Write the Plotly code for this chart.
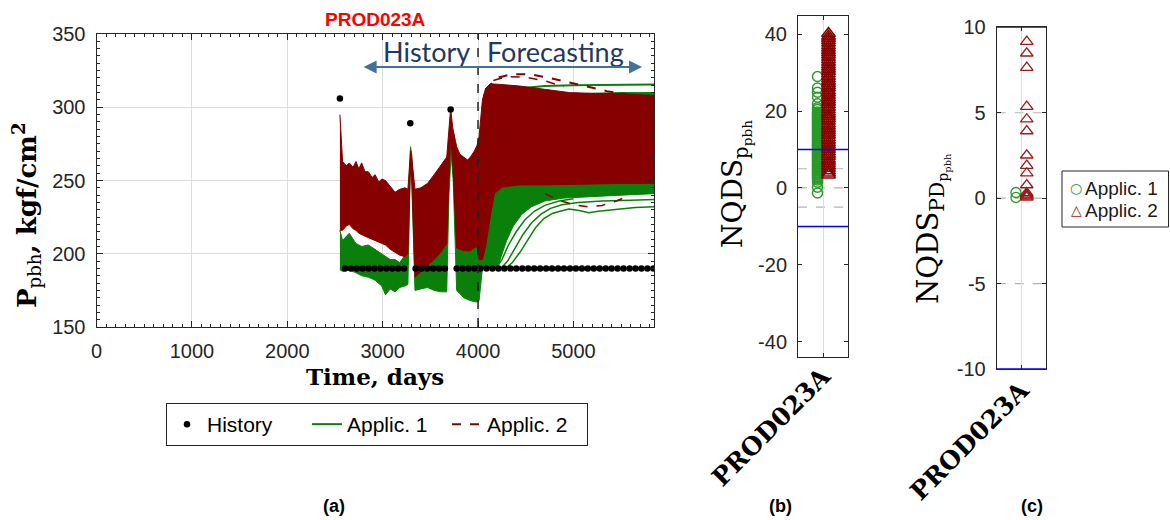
import plotly.graph_objects as go

# ---------------------------------------------------------------
# Panel (a): bottom-hole pressure of well PROD023A (kgf/cm2)
# ---------------------------------------------------------------
hist_t = [2552,
          2605, 2667, 2729, 2791, 2853, 2915, 2977, 3039, 3101, 3163, 3225,
          3290,
          3346, 3407, 3469, 3530, 3592, 3653,
          3713,
          3776, 3839, 3901, 3964, 4026, 4089, 4151, 4214, 4276, 4339, 4401, 4464,
          4526, 4589, 4651, 4714, 4776, 4839, 4901, 4964, 5026, 5089, 5151, 5214,
          5276, 5339, 5401, 5464, 5526, 5589, 5651, 5714, 5776, 5839]
hist_p = [306,
          190, 190, 190, 190, 190, 190, 190, 190, 190, 190, 190,
          289,
          190, 190, 190, 190, 190, 190,
          298.5,
          190, 190, 190, 190, 190, 190, 190, 190, 190, 190, 190, 190,
          190, 190, 190, 190, 190, 190, 190, 190, 190, 190, 190, 190,
          190, 190, 190, 190, 190, 190, 190, 190, 190, 190]

# Applic. 1 ensemble envelope (lower / upper bound of all models)
app1_t = [2552, 2580, 2650, 2720, 2780, 2850, 2920, 2990, 3030, 3080,
          3130, 3180, 3234, 3265, 3292, 3305, 3339, 3400, 3470, 3540,
          3610, 3672, 3695, 3718, 3740, 3776, 3850, 3920, 3990, 4011,
          4046, 4100, 4200, 4240, 4300, 4370, 4460, 4560, 4700, 4900,
          5200, 5500, 5845]
app1_lo = [189, 188, 189, 187, 185, 184, 182, 178, 172, 176,
           174, 177, 178, 179, 265, 250, 175, 176, 177, 175,
           174, 174, 240, 268, 250, 175, 170, 168, 167, 168,
           190, 190, 190, 198, 209, 219, 227, 232, 236, 238,
           239, 240, 241]
app1_hi = [216, 209, 214, 207, 205, 206, 203, 200, 198, 196,
           196, 194, 199, 205, 273, 268, 195, 200, 205, 210,
           215, 220, 262, 276, 262, 215, 212, 212, 215, 230,
           290, 303, 305, 306, 307, 307, 308, 308, 308.5, 309,
           309.5, 310, 310]

# Applic. 1 models lying outside the envelope core
app1_c1_t = [4290, 4360, 4440, 4520, 4605, 4690, 4779, 4860, 4953, 5060,
             5162, 5260, 5371, 5500, 5650, 5845]
app1_c1_p = [190, 194, 201, 209, 218, 224, 227.5, 229, 230.5, 229.5,
             228, 229, 229.8, 230.5, 231.5, 232]
app1_c2_t = [4240, 4310, 4390, 4470, 4560, 4660, 4760, 4880, 5050, 5300,
             5600, 5845]
app1_c2_p = [190, 195, 204, 213, 221, 227, 231, 233.5, 235, 236,
             236.5, 237]
app1_c3_t = [4190, 4250, 4320, 4400, 4490, 4590, 4700, 4850, 5000]
app1_c3_p = [190, 196, 206, 215, 223, 229, 233, 236, 237.5]
app1_top_t = [4100, 4250, 4450, 4700, 5000, 5400, 5845]
app1_top_p = [298, 309, 313, 314.5, 315, 315.2, 315.5]

# Applic. 2 ensemble envelope
app2_t = [2552, 2580, 2620, 2650, 2690, 2720, 2750, 2780, 2815, 2850,
          2890, 2920, 2960, 2990, 3030, 3080, 3130, 3180, 3234, 3265,
          3292, 3305, 3339, 3400, 3470, 3540, 3610, 3672, 3695, 3713,
          3735, 3776, 3810, 3850, 3890, 3920, 3960, 3990, 4011, 4046,
          4080, 4130, 4172, 4250, 4437, 4700, 4960, 5200, 5485, 5845]
app2_lo = [216, 216, 219, 220, 217, 216, 214, 213, 212, 211,
           210, 209, 208, 207, 206, 203, 201, 199, 198, 200,
           262, 252, 184, 188, 192, 196, 201, 207, 250, 280,
           262, 204, 203, 202, 202, 202, 204, 205, 196, 196,
           205, 226, 241, 245.5, 247, 247, 247, 247.5, 248, 248]
app2_hi = [295, 263, 260, 262, 259, 263, 258, 262, 256, 256,
           252, 254, 249, 251, 250, 246, 242, 244, 245, 244,
           270.5, 266, 244, 245, 248, 254, 260, 266, 285, 299,
           286, 273, 268, 266, 264, 266, 270, 274, 280, 305,
           313, 316, 316, 315.5, 314.5, 312, 310, 309.5, 309.4, 308]

# Applic. 2 models lying outside the envelope core
app2_top1_t = [4080, 4200, 4350, 4550, 4750, 4950, 5150, 5350, 5550]
app2_top1_p = [312, 320, 322.5, 322.5, 320, 317, 314, 311, 309]
app2_top2_t = [4060, 4150, 4300, 4500, 4700, 4900]
app2_top2_p = [308, 318, 321, 320.5, 318, 314]
app2_low_t = [4700, 4850, 5000, 5150, 5300, 5450, 5600]
app2_low_p = [241, 236.5, 233.5, 232, 233, 236, 240]

HISTORY_END = 4000

# ---------------------------------------------------------------
# Panel (b): NQDS of p_pbh per model ; panel (c): NQDS_PD
# ---------------------------------------------------------------
well = "PROD023A"
nqds_app1 = [29.0, 26.0, 24.9, 23.6, 21.9, 20.9, 20.4, 19.8, 19.5, 19.2,
             18.9, 18.6, 18.3, 18.0, 17.7, 17.5, 17.2, 16.9, 16.6, 16.3,
             16.0, 15.8, 15.5, 15.2, 14.9, 14.6, 14.3, 14.1, 13.8, 13.5,
             13.2, 13.0, 12.7, 12.4, 12.1, 11.8, 11.5, 11.3, 11.0, 10.7,
             10.4, 10.2, 9.9, 9.6, 9.3, 9.1, 8.8, 8.5, 8.2, 8.0,
             7.7, 7.4, 7.1, 6.9, 6.6, 6.3, 6.0, 5.8, 5.5, 5.2,
             4.9, 4.7, 4.4, 4.1, 3.8, 3.6, 3.3, 3.0, 2.7, 2.5,
             2.1, 1.5, 0.2, -1.3]
nqds_app2 = [40.2, 39.5, 38.9, 38.3, 37.7, 37.0, 36.4, 35.8, 35.2, 34.6,
             34.0, 33.4, 32.7, 32.1, 31.5, 30.9, 30.3, 29.7, 29.0, 28.4,
             27.8, 27.2, 26.6, 26.0, 25.3, 24.7, 24.1, 23.5, 22.9, 22.3,
             21.7, 21.0, 20.4, 19.8, 19.2, 18.6, 18.0, 17.4, 16.7, 16.1,
             15.5, 14.9, 14.3, 13.7, 13.1, 12.4, 11.8, 11.2, 10.6, 10.0,
             9.4, 8.8, 8.2, 7.5, 6.9, 6.3, 5.7, 5.1, 4.5, 3.9,
             3.4]
nqdspd_app1 = [0.33, 0.04]
nqdspd_app2 = [9.16, 8.48, 7.64, 5.36, 4.62, 3.93, 2.51, 1.9, 1.46, 0.77,
               0.3, 0.22, 0.16, 0.1, 0.05]

nqds_ticks = [-40, -20, 0, 20, 40]
nqdspd_ticks = [-10, -5, 0, 5, 10]
NQDS_TOL = 10
NQDS_REF = [-5, 0, 5]

# ---------------------------------------------------------------
GREEN = "#0a800a"
RED = "#860000"
GREEN_MK = "#2a9a2a"
RED_MK = "#a01a1a"
AXC = "#262626"
SANS = "Liberation Sans, Arial, sans-serif"
SERIF = "DejaVu Serif, serif"
W, H = 1170, 520


def px(x):
    return x / W


def py(y):
    return 1 - y / H


fig = go.Figure()


def band(t, lo, hi, color):
    return go.Scatter(x=t + t[::-1], y=hi + lo[::-1], mode="lines",
                      fill="toself", fillcolor=color,
                      line=dict(color=color, width=1),
                      showlegend=False, hoverinfo="skip",
                      xaxis="x", yaxis="y")


# Applic. 1 (solid green) first, Applic. 2 (dashed dark red) on top
fig.add_trace(band(app1_t, app1_lo, app1_hi, GREEN))
for tt, pp in [(app1_c3_t, app1_c3_p), (app1_c2_t, app1_c2_p), (app1_c1_t, app1_c1_p)]:
    fig.add_trace(go.Scatter(x=tt, y=pp, mode="lines", line=dict(color=GREEN, width=1.5),
                             showlegend=False, hoverinfo="skip"))
fig.add_trace(go.Scatter(x=app1_top_t, y=app1_top_p, mode="lines", name="Applic. 1",
                         line=dict(color=GREEN, width=2), legendrank=2))

fig.add_trace(band(app2_t, app2_lo, app2_hi, RED))
fig.add_trace(go.Scatter(x=app2_top1_t, y=app2_top1_p, mode="lines", name="Applic. 2",
                         line=dict(color=RED, width=2, dash="dash"), legendrank=3))
for tt, pp in [(app2_top2_t, app2_top2_p), (app2_low_t, app2_low_p)]:
    fig.add_trace(go.Scatter(x=tt, y=pp, mode="lines",
                             line=dict(color=RED, width=1.5, dash="dash"),
                             showlegend=False, hoverinfo="skip"))

fig.add_trace(go.Scatter(x=hist_t, y=hist_p, mode="markers", name="History",
                         marker=dict(color="black", size=6.5), legendrank=1))

# Panels (b) and (c): one category, models of each application side by side
OFF1, OFF2 = -0.22, 0.22
cat_pos = 0
fig.add_trace(go.Scatter(x=[cat_pos + OFF1] * len(nqds_app1), y=nqds_app1, mode="markers",
                         marker=dict(symbol="circle-open", size=10, color=GREEN_MK,
                                     line=dict(width=1.5)),
                         showlegend=False, xaxis="x2", yaxis="y2"))
fig.add_trace(go.Scatter(x=[cat_pos + OFF2] * len(nqds_app2), y=nqds_app2, mode="markers",
                         marker=dict(symbol="triangle-up-open", size=12, color=RED,
                                     line=dict(width=1.5)),
                         showlegend=False, xaxis="x2", yaxis="y2"))
fig.add_trace(go.Scatter(x=[cat_pos + OFF1] * len(nqdspd_app1), y=nqdspd_app1, mode="markers",
                         marker=dict(symbol="circle-open", size=10, color=GREEN_MK,
                                     line=dict(width=1.3)),
                         showlegend=False, xaxis="x3", yaxis="y3"))
fig.add_trace(go.Scatter(x=[cat_pos + OFF2] * len(nqdspd_app2), y=nqdspd_app2, mode="markers",
                         marker=dict(symbol="triangle-up-open", size=11, color=RED_MK,
                                     line=dict(width=1.3)),
                         showlegend=False, xaxis="x3", yaxis="y3"))

tickfont = dict(family=SANS, size=20, color=AXC)
common = dict(showline=True, linecolor=AXC, linewidth=1, mirror="allticks", ticks="inside",
              tickcolor=AXC, zeroline=False, automargin=False)
cat_font = dict(family=SERIF, size=25, color="black", weight="bold")

fig.update_layout(
    template="none",
    width=W, height=H, margin=dict(l=0, r=0, t=0, b=0, pad=0, autoexpand=False),
    paper_bgcolor="white", plot_bgcolor="white",
    showlegend=True,
    xaxis=dict(domain=[px(96.5), px(654)], range=[0, 5845], tickvals=[0, 1000, 2000, 3000, 4000, 5000],
               ticklen=6, showgrid=True, gridcolor="#dedede", gridwidth=1,
               minor=dict(ticks="inside", ticklen=3, dtick=100, tickcolor=AXC, showgrid=False),
               ticklabelstandoff=6, anchor="y", tickfont=tickfont, **common),
    yaxis=dict(domain=[py(327), py(34)], range=[150, 350], tickvals=[150, 200, 250, 300, 350],
               ticklen=6, showgrid=True, gridcolor="#dedede", gridwidth=1,
               minor=dict(ticks="inside", ticklen=3, dtick=5, tickcolor=AXC, showgrid=False),
               ticklabelstandoff=6, anchor="x", tickfont=tickfont, **common),
    xaxis2=dict(domain=[px(798), px(848)], range=[-1, 1], tickvals=[cat_pos], ticktext=[well],
                tickangle=-45, ticklen=4, showgrid=True, gridcolor="#dedede", anchor="y2",
                ticklabelstandoff=-6, tickfont=cat_font, **common),
    yaxis2=dict(domain=[py(357), py(16)], range=[-44, 44.76], tickvals=nqds_ticks,
                ticktext=[str(v) for v in nqds_ticks],
                ticklen=4, showgrid=False, anchor="x2", ticklabelstandoff=6,
                tickfont=tickfont, **common),
    xaxis3=dict(domain=[px(996.7), px(1046)], range=[-1, 1], tickvals=[cat_pos], ticktext=[well],
                tickangle=-45, ticklen=4, showgrid=True, gridcolor="#dedede", anchor="y3",
                ticklabelstandoff=-4, tickfont=cat_font, **common),
    yaxis3=dict(domain=[py(369), py(27.3)], range=[-10, 10], tickvals=nqdspd_ticks,
                ticktext=[str(v) for v in nqdspd_ticks],
                ticklen=4, showgrid=False, anchor="x3", ticklabelstandoff=6,
                tickfont=tickfont, **common),
    legend=dict(orientation="h", x=px(166), y=py(403), xanchor="left", yanchor="top",
                bgcolor="white", bordercolor=AXC, borderwidth=1,
                font=dict(family=SANS, size=21, color="black"),
                itemwidth=30, entrywidth=95, traceorder="normal"),
)

shapes = [
    dict(type="line", xref="x", yref="y", x0=HISTORY_END, x1=HISTORY_END, y0=150, y1=350,
         line=dict(color="#222222", width=1.5, dash="dash"), layer="above"),
]
for xa, ya in [("x2", "y2"), ("x3", "y3")]:
    for v in NQDS_REF:
        shapes.append(dict(type="line", xref=f"{xa} domain", yref=ya, x0=0, x1=1, y0=v, y1=v,
                           line=dict(color="#b4b4b4", width=1.2, dash="dash"), layer="below"))
    for v in (-NQDS_TOL, NQDS_TOL):
        shapes.append(dict(type="line", xref=f"{xa} domain", yref=ya, x0=0, x1=1, y0=v, y1=v,
                           line=dict(color="#0000ff", width=1.5), layer="above"))
# legend box of panel (c)
shapes.append(dict(type="rect", xref="paper", yref="paper", x0=px(1062), x1=px(1168.5),
                   y0=py(227), y1=py(171), line=dict(color=AXC, width=1), fillcolor="white"))
fig.update_layout(shapes=shapes)

ann = []


def text(s, x, y, size, family=SANS, color="black", angle=0, xanchor="center", ref="paper"):
    xx, yy = (px(x), py(y)) if ref == "paper" else (x, y)
    ann.append(dict(text=s, x=xx, y=yy, xref=ref if ref == "paper" else "x",
                    yref=ref if ref == "paper" else "y", showarrow=False, textangle=angle,
                    xanchor=xanchor, yanchor="middle",
                    font=dict(family=family, size=size, color=color)))


text("<b>PROD023A</b>", 375, 20, 19, color="#ff0000")
# history / forecasting marker
text("History", 3462, 338, 27, family="Lato, sans-serif", color="#1f3864", ref="data")
text("Forecasting", 4812, 338, 27, family="Lato, sans-serif", color="#1f3864", ref="data")
ann.append(dict(text="", x=5720, y=327.5, ax=2785, ay=327.5, xref="x", yref="y",
                axref="x", ayref="y", showarrow=True, arrowhead=2, arrowside="end+start",
                arrowsize=1.3, arrowwidth=2, arrowcolor="#41719c"))
# axis titles
text("<b>Time, days</b>", 375, 376, 23, family=SERIF)
text("<b>P</b><sub>pbh</sub><b>, kgf/cm<sup>2</sup></b>", 26, 215, 26, family=SERIF, angle=-90)
text("NQDS<sub>p<sub>pbh</sub></sub>", 735, 184, 28, family=SERIF, angle=-90)
text("NQDS<sub>PD<sub>p<sub>pbh</sub></sub></sub>", 932, 228, 29, family=SERIF, angle=-90)
# panel letters
for lab, xx in [("(a)", 334), ("(b)", 780), ("(c)", 1032)]:
    text(f"<b>{lab}</b>", xx, 506, 18)
# legend entries of panel (c)
for i, (sym, col, lab) in enumerate([("○", GREEN_MK, "Applic. 1"), ("△", RED_MK, "Applic. 2")]):
    yy = 188 + 22 * i
    text(sym, 1076, yy, 14, family="DejaVu Sans", color=col)
    text(lab, 1083, yy, 19, color="#1a1a1a", xanchor="left")
fig.update_layout(annotations=ann)

fig.write_html("out.html")
